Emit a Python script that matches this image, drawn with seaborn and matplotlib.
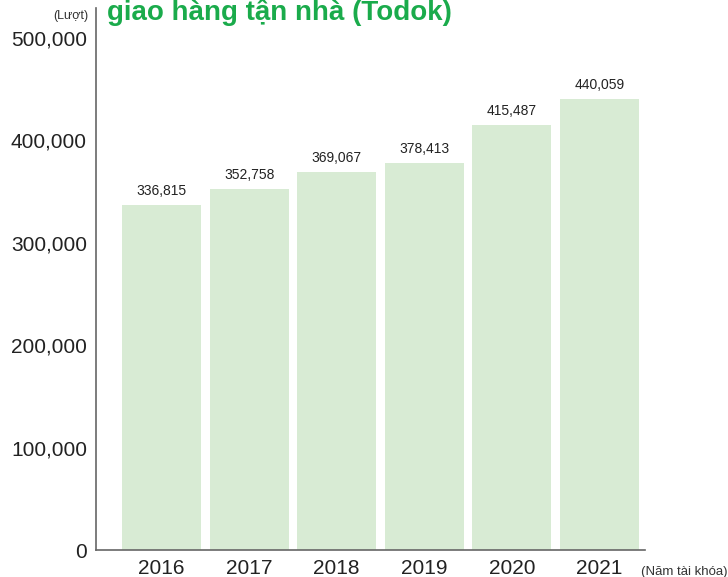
import matplotlib
matplotlib.use("Agg")
import matplotlib.pyplot as plt
import seaborn as sns
import pandas as pd

years = ["2016", "2017", "2018", "2019", "2020", "2021"]
values = [336815, 352758, 369067, 378413, 415487, 440059]
ytick_values = [0, 100000, 200000, 300000, 400000, 500000]
ytick_labels = ["0", "100,000", "200,000", "300,000", "400,000", "500,000"]
title_text = "giao hàng tận nhà (Todok)"
y_unit = "(Lượt)"
x_unit = "(Năm tài khóa)"

sns.set_style("white")
plt.rcParams['font.family'] = ['Liberation Sans', 'DejaVu Sans']

df = pd.DataFrame({"year": years, "value": values})

fig = plt.figure(figsize=(7.28, 5.77), dpi=100)
ax = fig.add_axes([96/728, 1-550/577, (645-96)/728, (550-8)/577])

sns.barplot(data=df, x="year", y="value", color="#d8ebd4", saturation=1,
            width=0.9, ax=ax, edgecolor="none")

ax.set_xlim(-0.748, 5.52)
ax.set_ylim(0, 529300)
ax.set_yticks(ytick_values)
ax.set_yticklabels(ytick_labels, fontsize=15, color="#222222")
ax.tick_params(axis="y", direction="in", length=11.5, width=1, color="#555555", pad=6.5)
ax.tick_params(axis="x", length=0, pad=6.5, labelsize=15, labelcolor="#222222")
ax.set_xlabel("")
ax.set_ylabel("")

for s in ["top", "right"]:
    ax.spines[s].set_visible(False)
for s in ["left", "bottom"]:
    ax.spines[s].set_color("#666666")
    ax.spines[s].set_linewidth(1.2)

for i, v in enumerate(values):
    ax.annotate(f"{v:,}", (i, v), xytext=(0, 5), textcoords="offset points",
                ha="center", va="bottom", fontsize=10, color="#222222")

fig.text(88/728, 1-16/577, y_unit, ha="right", va="center", fontsize=9, color="#333333")
fig.text(0.999, 1-572/577, x_unit, ha="right", va="center", fontsize=9.5, color="#333333")
fig.text(107/728, 1-20/577, title_text, ha="left", va="baseline", fontsize=20,
         fontweight="bold", color="#1aab4b")

fig.savefig("out.png", dpi=100)
